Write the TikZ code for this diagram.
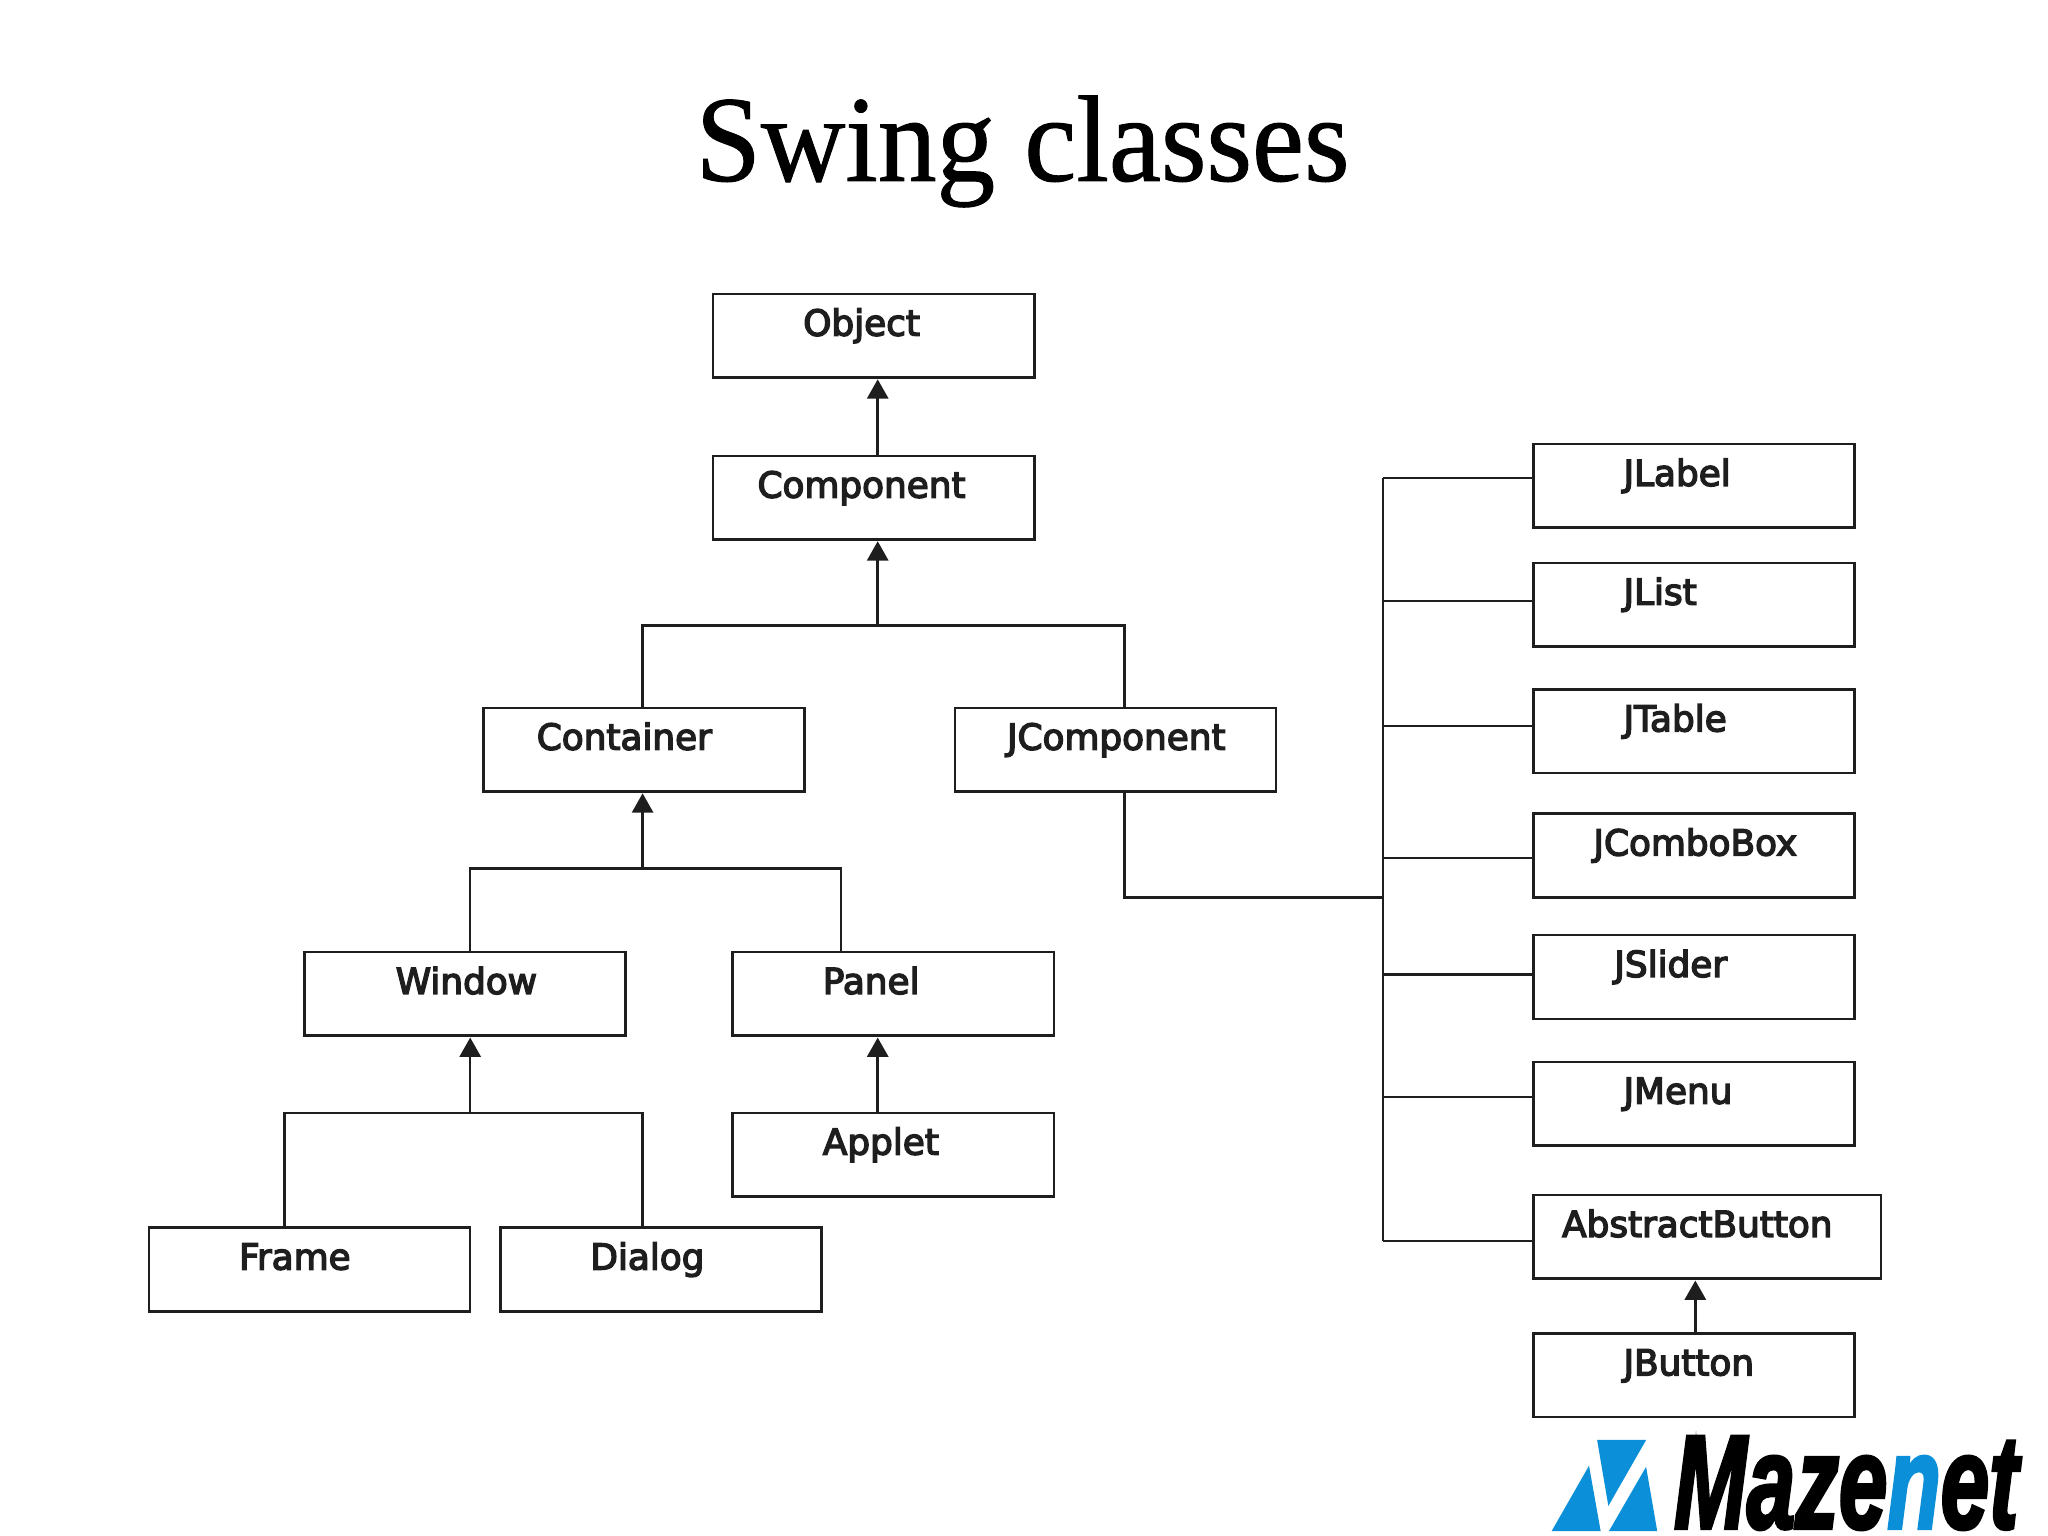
\documentclass[tikz,border=0pt]{standalone}
\usepackage{fontspec}
\usepackage{tikz}
\usetikzlibrary{arrows.meta}
\setmainfont{DejaVu Sans}
\newfontfamily\titlefont[FakeBold=.8]{Liberation Serif}
\newfontfamily\logofont[BoldItalicFeatures={FakeBold=3}]{Liberation Sans}
\definecolor{mazeblue}{HTML}{0B8FD9}
\definecolor{inkdark}{HTML}{1E1E1E}
\newlength\bu
\setlength\bu{0.01cm}
\newcommand\boxlabel[2]{\hspace*{#1\bu}#2}
\tikzset{
  classbox/.style={draw=inkdark, line width=.55pt, anchor=north west, inner sep=0pt, outer sep=0pt, align=left,
    text width=246\bu, text height=32\bu, text depth=32\bu, text=inkdark,
    font=\addfontfeature{FakeBold=4}\fontsize{7.8pt}{9pt}\selectfont},
  treeline/.style={draw=inkdark, line width=.55pt},
  uparrow/.style={treeline, shorten >=.4pt, -{Triangle[length=4.2pt,width=4.6pt]}},
  logopart/.style={fill=mazeblue, draw=none},
}
\begin{document}
\begin{tikzpicture}[x=0.01cm, y=-0.01cm]
\useasboundingbox (0,0) rectangle (1568,1176);
\node (title) at (783,116) {\titlefont\fontsize{26.7pt}{30pt}\selectfont\scalebox{.955}[1]{Swing classes}};
% left tree
\node[classbox] (object) at (546,225) {\boxlabel{69}{Object}};
\node[classbox] (component) at (546,349) {\boxlabel{34}{Component}};
\node[classbox] (container) at (370,542) {\boxlabel{41}{Container}};
\node[classbox] (jcomponent) at (731,542) {\boxlabel{40}{JComponent}};
\node[classbox] (window) at (233,729) {\boxlabel{70}{Window}};
\node[classbox] (panel) at (561,729) {\boxlabel{69}{Panel}};
\node[classbox] (applet) at (561,852) {\boxlabel{69}{Applet}};
\node[classbox] (frame) at (114,940) {\boxlabel{69}{Frame}};
\node[classbox] (dialog) at (383,940) {\boxlabel{69}{Dialog}};
% right column
\node[classbox] (jlabel) at (1174,340) {\boxlabel{69}{JLabel}};
\node[classbox] (jlist) at (1174,431) {\boxlabel{69}{JList}};
\node[classbox] (jtable) at (1174,528) {\boxlabel{69}{JTable}};
\node[classbox] (jcombobox) at (1174,623) {\boxlabel{46}{JComboBox}};
\node[classbox] (jslider) at (1174,716) {\boxlabel{62}{JSlider}};
\node[classbox] (jmenu) at (1174,813) {\boxlabel{69}{JMenu}};
\node[classbox, text width=266\bu] (abstractbutton) at (1174,915) {\boxlabel{22}{AbstractButton}};
\node[classbox] (jbutton) at (1174,1021) {\boxlabel{69}{JButton}};
% joints
\coordinate (compjoin) at (672,479);
\coordinate (jcompdrop) at (861,687);
\coordinate (contjoin) at (492,665);
\coordinate (paneldrop) at (644,729);
\coordinate (windjoin) at (360,852);
\coordinate (framedrop) at (218,940);
\coordinate (dialogdrop) at (492,940);
\coordinate (paneltop) at (672,852);
\coordinate (btntop) at (1298,1021);
\coordinate (buslabel) at (1059,366);
\coordinate (buslist) at (1059,460);
\coordinate (bustable) at (1059,556);
\coordinate (buscombo) at (1059,657);
\coordinate (busslider) at (1059,746);
\coordinate (busmenu) at (1059,840);
\coordinate (busabstract) at (1059,950);
% arrows and lines
\draw[uparrow] (compjoin |- component.north) to (compjoin |- object.south);
\draw[uparrow] (compjoin) to (compjoin |- component.south);
\draw[treeline] (contjoin |- container.north) |- (jcompdrop |- compjoin) -- (jcompdrop |- jcomponent.north);
\draw[uparrow] (contjoin) to (contjoin |- container.south);
\draw[treeline] (windjoin |- window.north) |- (paneldrop |- contjoin) -- (paneldrop);
\draw[uparrow] (windjoin) to (windjoin |- window.south);
\draw[treeline] (framedrop) |- (dialogdrop |- windjoin) -- (dialogdrop);
\draw[uparrow] (paneltop) to (paneltop |- panel.south);
\draw[uparrow] (btntop) to (btntop |- abstractbutton.south);
\draw[treeline] (jcompdrop |- jcomponent.south) |- (buslabel |- jcompdrop);
\draw[treeline] (buslabel) -- (busabstract);
\draw[treeline] (buslabel) -- (buslabel -| jlabel.west);
\draw[treeline] (buslist) -- (buslist -| jlist.west);
\draw[treeline] (bustable) -- (bustable -| jtable.west);
\draw[treeline] (buscombo) -- (buscombo -| jcombobox.west);
\draw[treeline] (busslider) -- (busslider -| jslider.west);
\draw[treeline] (busmenu) -- (busmenu -| jmenu.west);
\draw[treeline] (busabstract) -- (busabstract -| abstractbutton.west);
% logo
\fill[logopart] (1222.8,1102.5) -- (1260.3,1102.5) -- (1231.4,1153) -- cycle;
\fill[logopart] (1216.6,1122.2) -- (1225.5,1172.2) -- (1188,1172.2) -- cycle;
\fill[logopart] (1260.3,1123) -- (1268.8,1172.2) -- (1231.9,1172.2) -- cycle;
\node[anchor=base west, inner sep=0pt] (logotext) at (1281,1170) {\logofont\bfseries\itshape\fontsize{29pt}{32pt}\selectfont\scalebox{.655}[1]{Maze{\color{mazeblue}n}et}};
\end{tikzpicture}
\end{document}
